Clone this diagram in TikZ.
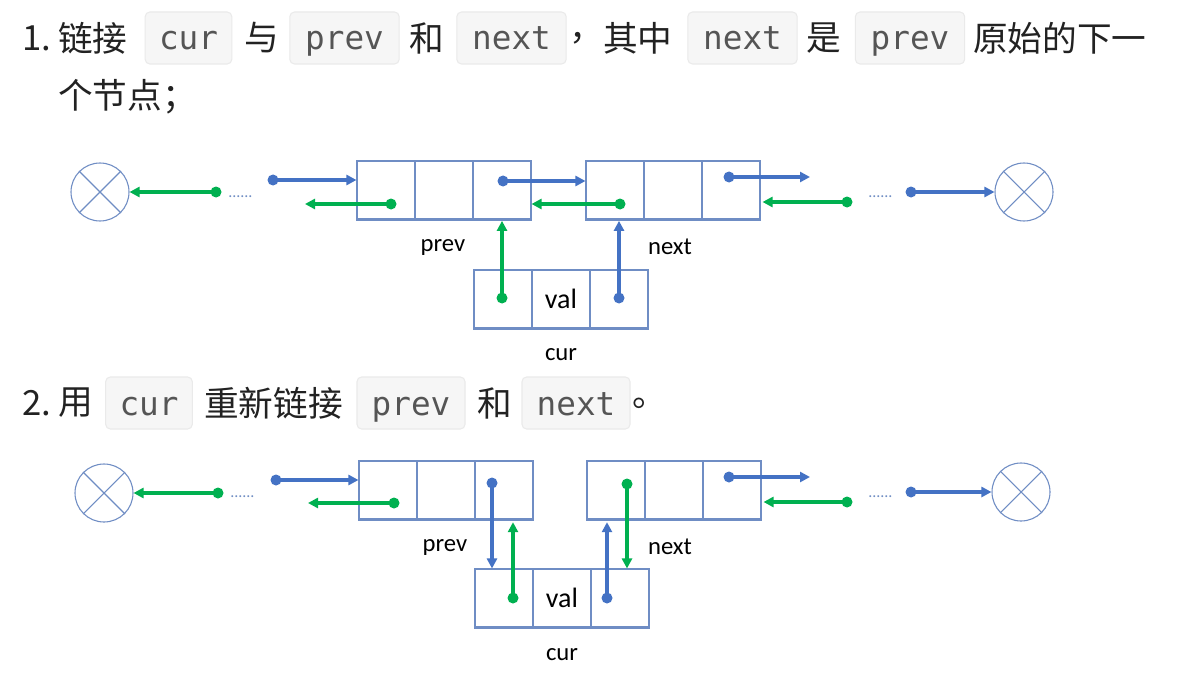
\documentclass[tikz,border=0pt]{standalone}
\usepackage{fontspec}
\usetikzlibrary{arrows.meta}
\newfontfamily\cjk{Noto Sans CJK SC}
\newfontfamily\codefont{DejaVu Sans Mono}
\newfontfamily\lab{Carlito}
\definecolor{bl}{HTML}{4472C4}
\definecolor{gr}{HTML}{00B050}
\definecolor{boxc}{HTML}{6F8DC4}
\definecolor{codeg}{HTML}{555555}
\definecolor{codebg}{HTML}{F6F6F6}
\definecolor{codebd}{HTML}{EAEAEA}
\definecolor{txt}{HTML}{222222}
\begin{document}
\begin{tikzpicture}[x=0.75pt,y=-0.75pt,
  cjktxt/.style={anchor=west, inner sep=0, font=\cjk\fontsize{26}{30}\selectfont, text=txt},
  code/.style={draw=codebd, fill=codebg, rounded corners=3.5pt, line width=0.8pt, minimum height=39pt, inner sep=0, font=\codefont\fontsize{24.5}{30}\selectfont, text=codeg, text height=22pt, text depth=4pt},
  cell/.style={draw=boxc, line width=0.8pt, minimum width=43.5pt, minimum height=43.5pt, inner sep=0},
  nullc/.style={circle, draw=boxc, line width=0.8pt, minimum size=43.5pt, inner sep=0},
  bluel/.style={bl, line width=2.3pt, -{Triangle[length=7.5pt,width=7.5pt]}},
  greenl/.style={gr, line width=2.3pt, -{Triangle[length=7.5pt,width=7.5pt]}},
  labf/.style={font=\lab\fontsize{18.5}{20}\selectfont, inner sep=0},
  valf/.style={font=\lab\fontsize{21}{24}\selectfont, inner sep=0},
  ellip/.style={anchor=base west, inner sep=0, font=\lab\fontsize{12}{14}\selectfont, text=boxc},
  bottomedge/.style={boxc, line width=1.6pt}
]
\useasboundingbox[fill=white] (0,0) rectangle (1177,681);

% ---------- Heading 1 ----------
\node[cjktxt] (h1n) at (22,38) {1.};
\node[cjktxt] (h1a) at (58,38) {链接};
\node[code, minimum width=65pt] (h1c1) at (188.5,38) {cur};
\node[cjktxt] (h1b) at (244,38) {与};
\node[code, minimum width=82pt] (h1c2) at (344.5,38) {prev};
\node[cjktxt] (h1c) at (409,38) {和};
\node[code, minimum width=82pt] (h1c3) at (511.5,38) {next};
\node[cjktxt] (h1d) at (569,38) {，};
\node[cjktxt] (h1e) at (603,38) {其中};
\node[code, minimum width=82pt] (h1c4) at (742.5,38) {next};
\node[cjktxt] (h1f) at (806,38) {是};
\node[code, minimum width=82pt] (h1c5) at (910,38) {prev};
\node[cjktxt] (h1g) at (973,38) {原始的下一};
\node[cjktxt] (h1h) at (58,97) {个节点；};

% ---------- Heading 2 ----------
\node[cjktxt] (h2n) at (22,403) {2.};
\node[cjktxt] (h2a) at (58,403) {用};
\node[code, minimum width=65pt] (h2c1) at (149,403) {cur};
\node[cjktxt] (h2b) at (204,403) {重新链接};
\node[code, minimum width=81pt] (h2c2) at (411,403) {prev};
\node[cjktxt] (h2c) at (477,403) {和};
\node[code, minimum width=81pt] (h2c3) at (576,403) {next};
\node[cjktxt] (h2d) at (632,403) {。};

% ---------- Diagram 1 ----------
\node[nullc] (c1L) at (100,192) {};
\draw[boxc, line width=0.8pt] (c1L.45) -- (c1L.225) (c1L.135) -- (c1L.315);
\node[nullc] (c1R) at (1024,192) {};
\draw[boxc, line width=0.8pt] (c1R.45) -- (c1R.225) (c1R.135) -- (c1R.315);

\node[cell] (p1a) at (386,190) {};
\node[cell] (p1b) at (444,190) {};
\node[cell] (p1c) at (502,190) {};
\draw[bottomedge] (p1a.south west) -- (p1c.south east);
\node[cell] (n1a) at (615,190) {};
\node[cell] (n1b) at (673,190) {};
\node[cell] (n1c) at (731,190) {};
\draw[bottomedge] (n1a.south west) -- (n1c.south east);
\node[cell] (k1a) at (503,299) {};
\node[cell] (k1b) at (561,299) {};
\node[cell] (k1c) at (619,299) {};
\draw[bottomedge] (k1a.south west) -- (k1c.south east);

\node[labf] (l1p) at (443,247) {prev};
\node[labf] (l1n) at (670,247) {next};
\node[valf] (l1v) at (k1b) {val};
\node[labf] (l1c) at (561,355) {cur};
\node[ellip] (e1L) at (228,197) {......};
\node[ellip] (e1R) at (868,197) {......};

\coordinate (g11) at (216,192);
\coordinate (b11) at (273,180);
\coordinate (g12) at (391,204);
\coordinate (e12) at (305,204);
\coordinate (b12) at (503,181);
\coordinate (g13) at (620,204);
\coordinate (b13) at (729,177);
\coordinate (e13) at (810,177);
\coordinate (g14) at (847,202);
\coordinate (b14) at (911,192);
\coordinate (g15) at (502,298);
\coordinate (b15) at (619,298);

\draw[greenl] (g11) -- (c1L.east);
\draw[bluel] (b11) -- (p1a.west |- b11);
\draw[greenl] (g12) -- (e12);
\draw[bluel] (b12) -- (n1a.west |- b12);
\draw[greenl] (g13) -- (p1c.east |- g13);
\draw[bluel] (b13) -- (e13);
\draw[greenl] (g14) -- ([xshift=1.5pt]n1c.east |- g14);
\draw[bluel] (b14) -- (c1R.west);
\draw[greenl] (g15) -- ([yshift=-1pt]g15 |- p1c.south);
\draw[bluel] (b15) -- ([yshift=-1pt]b15 |- n1a.south);
\foreach \p in {g11,g12,g13,g14,g15} \fill[gr] (\p) circle (5.5);
\foreach \p in {b11,b12,b13,b14,b15} \fill[bl] (\p) circle (5.5);

% ---------- Diagram 2 ----------
\node[nullc] (c2L) at (104,493) {};
\draw[boxc, line width=0.8pt] (c2L.45) -- (c2L.225) (c2L.135) -- (c2L.315);
\node[nullc] (c2R) at (1021,492) {};
\draw[boxc, line width=0.8pt] (c2R.45) -- (c2R.225) (c2R.135) -- (c2R.315);

\node[cell] (p2a) at (388,490) {};
\node[cell] (p2b) at (446,490) {};
\node[cell] (p2c) at (504,490) {};
\draw[bottomedge] (p2a.south west) -- (p2c.south east);
\node[cell] (n2a) at (616,490) {};
\node[cell] (n2b) at (674,490) {};
\node[cell] (n2c) at (732,490) {};
\draw[bottomedge] (n2a.south west) -- (n2c.south east);
\node[cell] (k2a) at (504,598) {};
\node[cell] (k2b) at (562,598) {};
\node[cell] (k2c) at (620,598) {};
\draw[bottomedge] (k2a.south west) -- (k2c.south east);

\node[labf] (l2p) at (445,547) {prev};
\node[labf] (l2n) at (670,547) {next};
\node[valf] (l2v) at (k2b) {val};
\node[labf] (l2c) at (562,655) {cur};
\node[ellip] (e2L) at (230,497) {......};
\node[ellip] (e2R) at (868,497) {......};

\coordinate (g21) at (218,493);
\coordinate (b21) at (276,480);
\coordinate (g22) at (394,503);
\coordinate (e22) at (308,503);
\coordinate (b22) at (492,483);
\coordinate (g23) at (513,598);
\coordinate (b23) at (729,477);
\coordinate (e23) at (810,477);
\coordinate (g24) at (847,502);
\coordinate (b24) at (911,492);
\coordinate (g25) at (627,484);
\coordinate (b25) at (607,598);

\draw[greenl] (g21) -- (c2L.east);
\draw[bluel] (b21) -- (p2a.west |- b21);
\draw[greenl] (g22) -- (e22);
\draw[bluel] (b22) -- (b22 |- k2a.north);
\draw[greenl] (g23) -- ([yshift=-2pt]g23 |- p2c.south);
\draw[bluel] (b23) -- (e23);
\draw[greenl] (g24) -- ([xshift=1.5pt]n2c.east |- g24);
\draw[bluel] (b24) -- (c2R.west);
\draw[greenl] (g25) -- (g25 |- k2c.north);
\draw[bluel] (b25) -- ([yshift=-2pt]b25 |- n2a.south);
\foreach \p in {g21,g22,g23,g24,g25} \fill[gr] (\p) circle (5.5);
\foreach \p in {b21,b22,b23,b24,b25} \fill[bl] (\p) circle (5.5);
\end{tikzpicture}
\end{document}
